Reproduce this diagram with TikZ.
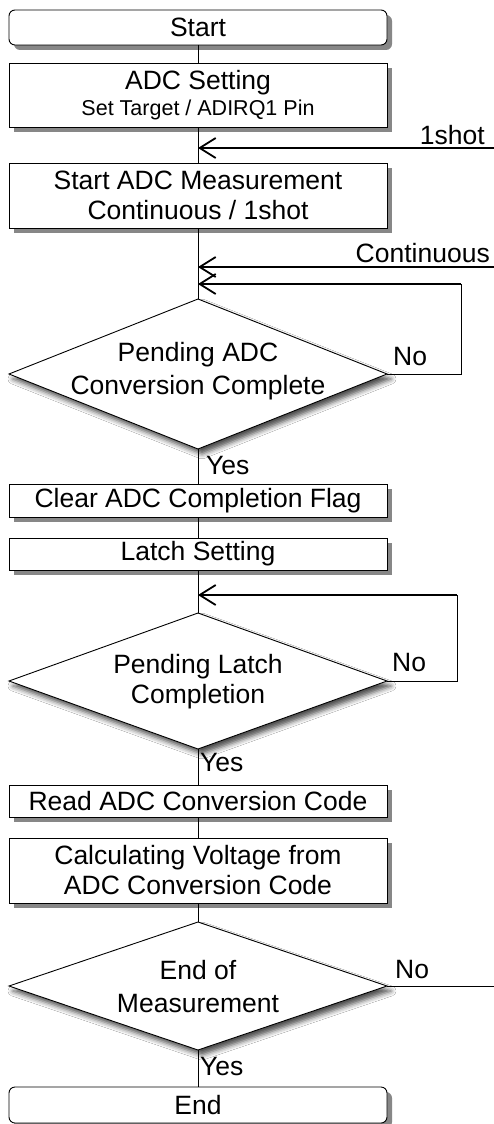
\documentclass[tikz,border=0pt]{standalone}
\usepackage{fontspec}
\setmainfont{Liberation Sans}
\usetikzlibrary{shapes.geometric,arrows.meta,shadows,shadows.blur}
\begin{document}
\begin{tikzpicture}[x=1pt,y=1pt,
  big/.style={font=\fontsize{26.5}{30}\selectfont},
  box/.style={draw, line width=0.9pt, fill=white, minimum width=378pt, inner sep=0pt, outer sep=0pt, align=center, big,
    drop shadow={shadow xshift=5pt,shadow yshift=-5pt,fill=black!47,opacity=1}},
  term/.style={box, rounded corners=6pt},
  dia/.style={draw, diamond, line width=0.9pt, fill=white, inner sep=0pt, outer sep=0pt, minimum width=378pt,
    blur shadow={shadow xshift=4pt,shadow yshift=-5pt,shadow blur radius=5pt,shadow opacity=70}},
  lbl/.style={big, inner sep=0pt},
  conn/.style={line width=0.9pt},
  arr/.style={line width=1.8pt, -{Straight Barb[length=16pt,width=20pt]}}
]
\fill[white] (0,0) rectangle (494,-1124);
\useasboundingbox (0,0) rectangle (494,-1124);

\node[term, minimum height=35pt] (start) at (198,-27.5) {Start};
\node[box, minimum height=64pt] (set) at (198,-95) {ADC Setting\\[-4pt]{\fontsize{21.5}{24}\selectfont Set Target / ADIRQ1 Pin}};
\node[box, minimum height=65pt] (meas) at (198,-195.5) {Start ADC Measurement\\Continuous / 1shot};
\node[dia, minimum height=150pt] (d1) at (198,-374) {};
\node[lbl, align=center] (t1) at (198,-371) {Pending ADC\\[3pt]Conversion Complete};
\node[box, minimum height=33pt] (clr) at (198,-500.5) {Clear ADC Completion Flag};
\node[box, minimum height=32pt] (latch) at (198,-554) {Latch Setting};
\node[dia, minimum height=136pt] (d2) at (198,-681) {};
\node[lbl, align=center] (t2) at (198,-682) {Pending Latch\\Completion};
\node[box, minimum height=32pt] (read) at (198,-801) {Read ADC Conversion Code};
\node[box, minimum height=65pt] (calc) at (198,-870.5) {Calculating Voltage from\\ADC Conversion Code};
\node[dia, minimum height=128pt] (d3) at (198,-986) {};
\node[lbl, align=center] (t3) at (198,-986.5) {End of\\[3pt]Measurement};
\node[term, minimum height=36pt] (end) at (198,-1105) {End};

\draw[conn] (start.south) -- (set.north);
\draw[conn] (set.south) -- (meas.north);
\draw[conn] (meas.south) -- (d1.north);
\draw[conn] (d1.south) -- (clr.north);
\draw[conn] (clr.south) -- (latch.north);
\draw[conn] (latch.south) -- (d2.north);
\draw[conn] (d2.south) -- (read.north);
\draw[conn] (read.south) -- (calc.north);
\draw[conn] (calc.south) -- (d3.north);
\draw[conn] (d3.south) -- (end.north);

\coordinate (j1) at (198,-148);
\coordinate (in1) at (494,-148);
\draw[arr] (in1) -- (j1);
\node[lbl, anchor=east] (l1shot) at (485,-135) {1shot};

\coordinate (j2) at (198,-267);
\coordinate (in2) at (494,-267);
\draw[arr] (in2) -- (j2);
\node[lbl, anchor=east] (lcont) at (490,-253) {Continuous};

\coordinate (j3) at (198,-284);
\coordinate (r1) at (461,-284);
\draw[conn] (d1.east) -| (r1);
\draw[arr] (r1) -- (j3);
\node[lbl, anchor=west] (no1) at (393,-357) {No};
\node[lbl, anchor=west] (yes1) at (206,-466) {Yes};

\coordinate (j4) at (198,-595);
\coordinate (r2) at (457,-595);
\draw[conn] (d2.east) -| (r2);
\draw[arr] (r2) -- (j4);
\node[lbl, anchor=west] (no2) at (392,-663) {No};
\node[lbl, anchor=west] (yes2) at (200,-763) {Yes};

\coordinate (out3) at (494,-986);
\draw[conn] (d3.east) -- (out3);
\node[lbl, anchor=west] (no3) at (395,-970) {No};
\node[lbl, anchor=west] (yes3) at (200,-1067) {Yes};
\end{tikzpicture}
\end{document}
